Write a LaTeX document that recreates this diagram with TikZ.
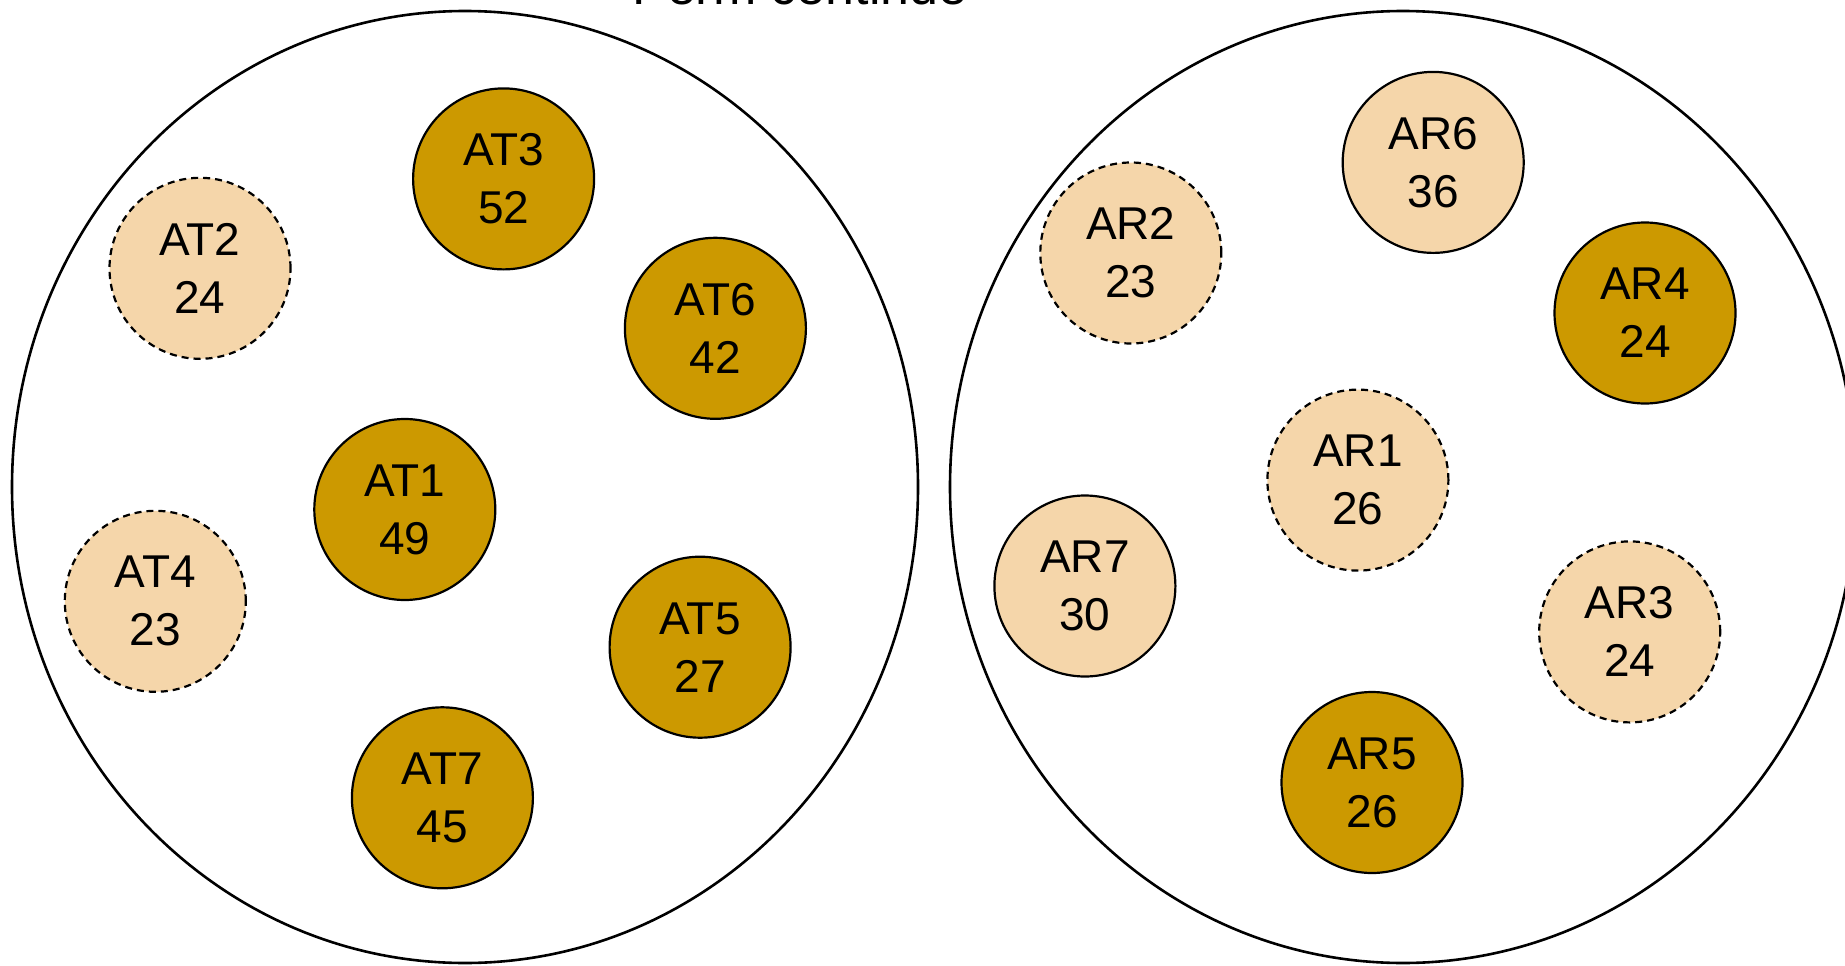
\documentclass[tikz,border=0pt]{standalone}
\usepackage{fontspec}
\setmainfont{Liberation Sans}
\usetikzlibrary{shapes.geometric}
\definecolor{gold}{RGB}{204,153,0}
\definecolor{tanlight}{RGB}{245,214,170}
\begin{document}
\begin{tikzpicture}[x=1pt,y=-1pt,
  group/.style={ellipse, draw, line width=2.6pt, inner sep=0pt, fill=none},
  ball/.style={circle, draw, line width=2.2pt, minimum size=181pt, inner sep=0pt, align=center,
    font=\fontsize{46}{58}\selectfont},
  hot/.style={ball, fill=gold},
  warm/.style={ball, fill=tanlight},
  weak/.style={ball, fill=tanlight, dash pattern=on 7pt off 5pt},
  title/.style={anchor=base, inner sep=0pt, font=\fontsize{52}{60}\selectfont}]
\useasboundingbox (0,0) rectangle (1845,966);
\clip (0,0) rectangle (1845,966);
\node[title] (T) at (800,5) {Perm centinde};
\node[group, minimum width=906pt, minimum height=952pt] (L) at (465,487) {};
\node[group, minimum width=906pt, minimum height=952pt] (R) at (1403,487) {};
% left group
\node[hot]  (AT3) at (503.6,178.9) {AT3\\52};
\node[weak] (AT2) at (200,268.3)   {AT2\\24};
\node[hot]  (AT6) at (715.4,328.3) {AT6\\42};
\node[hot]  (AT1) at (404.8,509.5) {AT1\\49};
\node[weak] (AT4) at (155.3,601.3) {AT4\\23};
\node[hot]  (AT5) at (700.1,647.2) {AT5\\27};
\node[hot]  (AT7) at (442.4,797.8) {AT7\\45};
% right group
\node[warm] (AR6) at (1433.2,162.4) {AR6\\36};
\node[weak] (AR2) at (1130.8,253)   {AR2\\23};
\node[hot]  (AR4) at (1645,313)     {AR4\\24};
\node[weak] (AR1) at (1357.9,480.1) {AR1\\26};
\node[warm] (AR7) at (1084.9,586)   {AR7\\30};
\node[weak] (AR3) at (1629.7,631.9) {AR3\\24};
\node[hot]  (AR5) at (1372,782.5)   {AR5\\26};
\end{tikzpicture}
\end{document}
